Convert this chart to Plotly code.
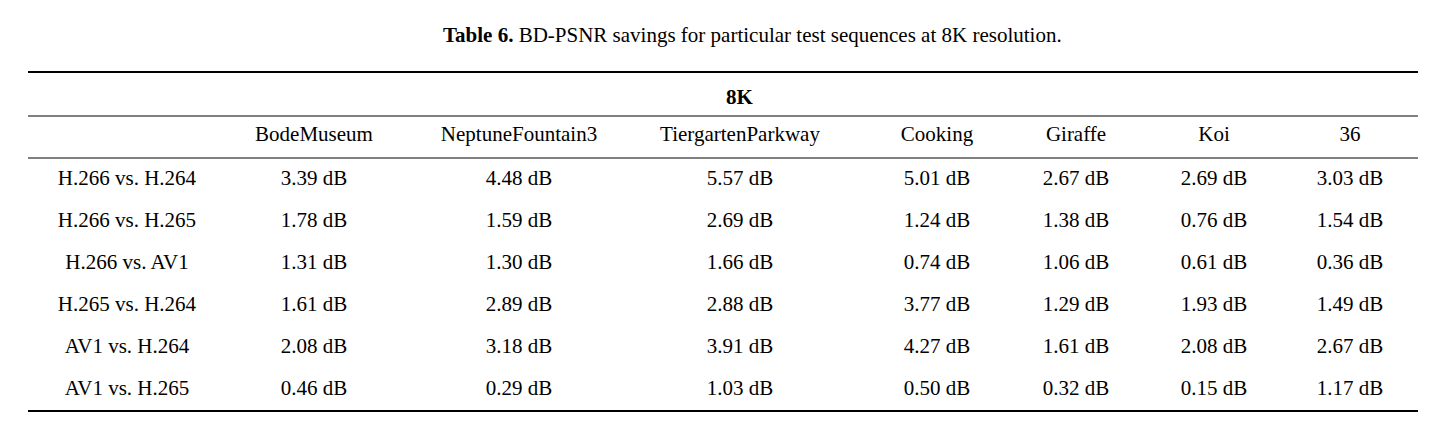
import plotly.graph_objects as go

title_bold = "Table 6."
title_rest = " BD-PSNR savings for particular test sequences at 8K resolution."
group = "8K"
sequences = ["BodeMuseum", "NeptuneFountain3", "TiergartenParkway", "Cooking", "Giraffe", "Koi", "36"]
comparisons = ["H.266 vs. H.264", "H.266 vs. H.265", "H.266 vs. AV1", "H.265 vs. H.264", "AV1 vs. H.264", "AV1 vs. H.265"]
h266_h264 = [3.39, 4.48, 5.57, 5.01, 2.67, 2.69, 3.03]
h266_h265 = [1.78, 1.59, 2.69, 1.24, 1.38, 0.76, 1.54]
h266_av1 = [1.31, 1.30, 1.66, 0.74, 1.06, 0.61, 0.36]
h265_h264 = [1.61, 2.89, 2.88, 3.77, 1.29, 1.93, 1.49]
av1_h264 = [2.08, 3.18, 3.91, 4.27, 1.61, 2.08, 2.67]
av1_h265 = [0.46, 0.29, 1.03, 0.50, 0.32, 0.15, 1.17]
rows = [h266_h264, h266_h265, h266_av1, h265_h264, av1_h264, av1_h265]

# layout (pixel positions, compensating the 8px page offset)
OFF = 8
col_x = [c - OFF for c in [127, 314, 519, 740, 937, 1076, 1214, 1350]]
row_y = [r - OFF for r in [180, 222, 264, 306, 348, 390]]
header_y, group_y = 136 - OFF, 97 - OFF
FONT = "Liberation Serif"
SZ = 21

xs, ys, ts = [], [], []
for j, s in enumerate(sequences):
    xs.append(col_x[j + 1]); ys.append(header_y); ts.append(s)
for i, (c, vals) in enumerate(zip(comparisons, rows)):
    xs.append(col_x[0]); ys.append(row_y[i]); ts.append(c)
    for j, v in enumerate(vals):
        xs.append(col_x[j + 1]); ys.append(row_y[i]); ts.append(f"{v:.2f} dB")

fig = go.Figure(go.Scatter(x=xs, y=ys, text=ts, mode="text", textposition="middle center",
                           textfont=dict(family=FONT, size=SZ, color="black"), hoverinfo="skip"))
fig.add_annotation(x=740 - OFF, y=group_y, text=f"<b>{group}</b>", showarrow=False,
                   font=dict(family=FONT, size=SZ, color="black"))
fig.add_annotation(x=752 - OFF, y=35 - OFF, text=f"<b>{title_bold}</b>{title_rest}", showarrow=False,
                   font=dict(family=FONT, size=SZ, color="black"))
for y, w in [(72, 2), (116, 1), (158, 1), (411, 2)]:
    fig.add_shape(type="line", x0=28 - OFF, x1=1418 - OFF, y0=y - OFF, y1=y - OFF,
                  line=dict(color="black", width=w))

fig.update_layout(width=1434, height=436, margin=dict(l=0, r=0, t=0, b=0),
                  plot_bgcolor="white", paper_bgcolor="white", showlegend=False,
                  xaxis=dict(range=[0, 1434], visible=False, fixedrange=True),
                  yaxis=dict(range=[436, 0], visible=False, fixedrange=True))
fig.write_html("out.html")
